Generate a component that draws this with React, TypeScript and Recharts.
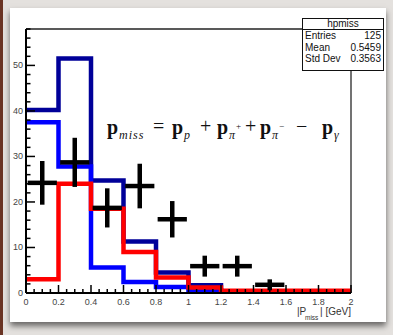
import React from "react";
import {
  ComposedChart,
  ErrorBar,
  Line,
  ReferenceLine,
  Scatter,
  XAxis,
  YAxis,
} from "recharts";

// bin edges (0.2 GeV wide) and histogram contents
const binEdges = [0, 0.2, 0.4, 0.6, 0.8, 1.0, 1.2, 1.4, 1.6, 1.8, 2.0];
const navyCounts = [40.2, 51.5, 24.7, 11.3, 4.5, 1.7, 0.4, 0.3, 0.3, 0.3];
const blueCounts = [37.5, 27.8, 5.6, 2.4, 1.3, 0.6, 0.2, 0.2, 0.2, 0.2];
const redCounts = [3.0, 24.0, 18.5, 9.0, 3.4, 1.2, 0.5, 0.5, 0.5, 0.5];

// data points with errors
const pointX = [0.1, 0.3, 0.5, 0.7, 0.9, 1.1, 1.3, 1.5];
const pointY = [24.2, 28.7, 18.7, 23.5, 16.2, 5.9, 5.9, 1.8];
const pointErrY = [4.8, 5.4, 4.3, 4.9, 4.0, 2.3, 2.3, 1.2];
const pointErrX = [0.09, 0.09, 0.09, 0.09, 0.09, 0.09, 0.09, 0.09];

const yTicks = Array.from({ length: 30 }, (_, i) => i * 2);
const xTicks = Array.from({ length: 41 }, (_, i) => i / 20);

const stepRows = (counts: number[]) =>
  binEdges.map((x, i) => ({ x, y: counts[Math.min(i, counts.length - 1)] }));

const points = pointX.map((x, i) => ({
  x,
  y: pointY[i],
  ex: pointErrX[i],
  ey: pointErrY[i],
}));

const FONT = "'Liberation Sans', Arial, sans-serif";
const SERIF = "'Liberation Serif', 'DejaVu Serif', serif";

function YTick(props: any) {
  const { x, y, payload } = props;
  const v = payload.value as number;
  const major = v % 10 === 0;
  return (
    <g>
      <line x1={x} x2={x + (major ? 9 : 4.5)} y1={y} y2={y} stroke="#000" strokeWidth={1.5} />
      {major && (
        <text x={x - 3} y={y + 3} textAnchor="end" fontSize={9} fill="#444" fontFamily={FONT}>
          {v}
        </text>
      )}
    </g>
  );
}

function XTick(props: any) {
  const { x, y, payload } = props;
  const v = payload.value as number;
  const major = Math.round(v * 100) % 20 === 0;
  return (
    <g>
      <line x1={x} x2={x} y1={y} y2={y - (major ? 8 : 4)} stroke="#000" strokeWidth={1.5} />
      {major && (
        <text x={x} y={y + 12} textAnchor="middle" fontSize={9} fill="#444" fontFamily={FONT}>
          {Number(v.toFixed(1)).toString()}
        </text>
      )}
    </g>
  );
}

const hist = (counts: number[], color: string, key: string) => (
  <Line
    key={key}
    data={stepRows(counts)}
    dataKey="y"
    type="stepAfter"
    stroke={color}
    strokeWidth={4.5}
    strokeLinejoin="miter"
    dot={false}
    isAnimationActive={false}
  />
);

// formula pieces: [left, text, kind]
const formula: [number, string, string][] = [
  [107, "p", "main"],
  [119, "miss", "sub"],
  [153, "=", "op"],
  [172, "p", "main"],
  [184, "p", "sub"],
  [200, "+", "op"],
  [217, "p", "main"],
  [229, "π", "sub"],
  [236, "+", "sup"],
  [245, "+", "op"],
  [260, "p", "main"],
  [272, "π", "sub"],
  [279, "−", "sup"],
  [296, "−", "op"],
  [322, "p", "main"],
  [334, "γ", "sub"],
];

function Formula() {
  return (
    <>
      {formula.map(([left, t, kind], i) => {
        const base: React.CSSProperties = {
          position: "absolute",
          left,
          fontFamily: SERIF,
          color: "#111",
          whiteSpace: "nowrap",
          lineHeight: 1,
        };
        if (kind === "main")
          return <span key={i} style={{ ...base, top: 117, fontSize: 20, fontWeight: "bold" }}>{t}</span>;
        if (kind === "op")
          return <span key={i} style={{ ...base, top: 116, fontSize: 20 }}>{t}</span>;
        if (kind === "sub")
          return (
            <span key={i} style={{ ...base, top: 129, fontSize: 12, fontStyle: "italic", letterSpacing: 1 }}>
              {t}
            </span>
          );
        return <span key={i} style={{ ...base, top: 122, fontSize: 9 }}>{t}</span>;
      })}
    </>
  );
}

export default function App() {
  return (
    <div
      style={{
        position: "absolute",
        left: 0,
        top: 0,
        width: 393,
        height: 335,
        background: "#e4e1de",
        overflow: "hidden",
      }}
    >
      <div style={{ position: "absolute", left: 0, top: 0, width: 3, height: 335, background: "#6a3424" }} />
      <div
        style={{
          position: "absolute",
          left: 10,
          top: 8,
          width: 376,
          height: 314,
          background: "#fff",
          boxShadow: "0 4px 6px rgba(0,0,0,0.55)",
        }}
      />
      <div style={{ position: "absolute", left: 0, top: 0 }}>
        <ComposedChart width={393} height={335} margin={{ top: 29, right: 42, left: 0, bottom: 0 }}>
          <XAxis
            type="number"
            dataKey="x"
            domain={[0, 2]}
            ticks={xTicks}
            interval={0}
            tickSize={0}
            tickMargin={0}
            tick={<XTick />}
            height={42}
            axisLine={{ stroke: "#000", strokeWidth: 2 }}
            allowDataOverflow
          />
          <YAxis
            type="number"
            domain={[0, 58]}
            ticks={yTicks}
            interval={0}
            tickSize={0}
            tickMargin={0}
            tick={<YTick />}
            width={26}
            axisLine={{ stroke: "#000", strokeWidth: 2 }}
            allowDataOverflow
          />
          <ReferenceLine y={58} stroke="#222" strokeWidth={1.5} />
          <ReferenceLine x={2} stroke="#444" strokeWidth={1.5} />
          {hist(navyCounts, "#000099", "navy")}
          {hist(blueCounts, "#0000ff", "blue")}
          {hist(redCounts, "#ff0000", "red")}
          <Scatter data={points} dataKey="y" shape={() => <g />} isAnimationActive={false}>
            <ErrorBar dataKey="ey" direction="y" width={0} stroke="#000" strokeWidth={4.5} />
            <ErrorBar dataKey="ex" direction="x" width={0} stroke="#000" strokeWidth={4.5} />
          </Scatter>
        </ComposedChart>
      </div>

      <Formula />

      {/* x axis title */}
      <span style={{ position: "absolute", left: 297, top: 307, fontFamily: FONT, fontSize: 10, lineHeight: 1, color: "#333" }}>
        |P
      </span>
      <span style={{ position: "absolute", left: 305, top: 315, fontFamily: FONT, fontSize: 6.5, lineHeight: 1, color: "#333" }}>
        miss
      </span>
      <span style={{ position: "absolute", right: 42, top: 307, fontFamily: FONT, fontSize: 10, lineHeight: 1, color: "#333", whiteSpace: "nowrap" }}>
        | [GeV]
      </span>

      {/* stats box */}
      <div
        style={{
          position: "absolute",
          left: 302,
          top: 18,
          width: 80,
          height: 51,
          border: "1.5px solid #111",
          background: "#fff",
          fontFamily: FONT,
          fontSize: 10,
          lineHeight: "11.5px",
          color: "#111",
        }}
      >
        <div style={{ textAlign: "center", borderBottom: "1.5px solid #111", height: 10, lineHeight: "10px" }}>
          hpmiss
        </div>
        {[
          ["Entries", "125"],
          ["Mean", "0.5459"],
          ["Std Dev", "0.3563"],
        ].map(([k, v]) => (
          <div key={k} style={{ display: "flex", justifyContent: "space-between", padding: "0 2px" }}>
            <span>{k}</span>
            <span>{v}</span>
          </div>
        ))}
      </div>
    </div>
  );
}
